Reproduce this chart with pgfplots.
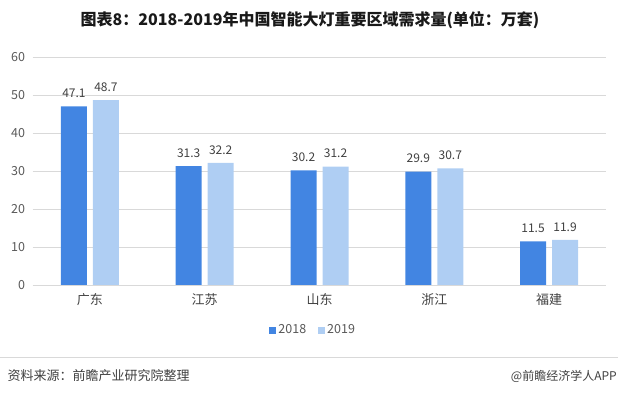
\documentclass[border=0pt]{standalone}
\usepackage{fontspec}
\setmainfont{Noto Sans CJK SC}
\usepackage{pgfplots}
\pgfplotsset{compat=1.18}
\definecolor{darkb}{HTML}{4285E2}
\definecolor{lightb}{HTML}{AFCEF3}
\definecolor{gridc}{HTML}{D9D9D9}
\definecolor{txt}{HTML}{595959}
\definecolor{lbl}{HTML}{404040}
\begin{document}
\begin{tikzpicture}[x=1pt,y=1pt]
\path[use as bounding box] (0,0) rectangle (618,396);
\node[font=\fontsize{16}{19}\selectfont\bfseries, text=black!90] at (310,376) {图表8：2018-2019年中国智能大灯重要区域需求量(单位：万套)};
\begin{axis}[
  at={(32.6pt,111pt)}, anchor=south west,
  scale only axis, width=573.8pt, height=227.7pt,
  ymin=0, ymax=60, ytick={0,10,...,60},
  xmin=-0.5, xmax=4.5,
  xtick={0,1,2,3,4},
  xticklabels={广东,江苏,山东,浙江,福建},
  ybar=6pt, bar width=26pt,
  axis line style={draw=none},
  ymajorgrids, grid style={gridc, line width=0.8pt},
  major tick length=0pt,
  /pgf/number format/assume math mode=true,
  tick label style={font=\fontsize{12.5}{14}\selectfont, text=txt},
  yticklabel style={xshift=-4pt},
  xticklabel style={yshift=-5pt, font=\fontsize{13}{15}\selectfont, text=lbl},
  nodes near coords,
  nodes near coords style={font=\fontsize{12}{14}\selectfont, text=lbl, anchor=south, yshift=5pt, /pgf/number format/fixed, /pgf/number format/precision=1, /pgf/number format/fixed zerofill},
  legend style={at={(0.489,-0.198)}, anchor=center, draw=none, legend columns=2, font=\fontsize{12.5}{14}\selectfont, text=txt, /tikz/every even column/.append style={column sep=10pt}},
  legend image code/.code={\fill[#1] (0pt,-3.5pt) rectangle (7pt,3.5pt);},
]
\addplot[fill=darkb, draw=none] coordinates {(0,47.1) (1,31.3) (2,30.2) (3,29.9) (4,11.5)};
\addplot[fill=lightb, draw=none] coordinates {(0,48.7) (1,32.2) (2,31.2) (3,30.7) (4,11.9)};
\legend{2018,2019}
\end{axis}
\draw[gridc, line width=0.8pt] (0,39) -- (618,39);
\node[anchor=west, font=\fontsize{13}{15}\selectfont, text=lbl] at (4,20) {资料来源：前瞻产业研究院整理};
\node[anchor=east, font=\fontsize{12}{14}\selectfont, text=lbl, inner sep=1pt] at (618,20) {@前瞻经济学人APP};
\end{tikzpicture}
\end{document}
